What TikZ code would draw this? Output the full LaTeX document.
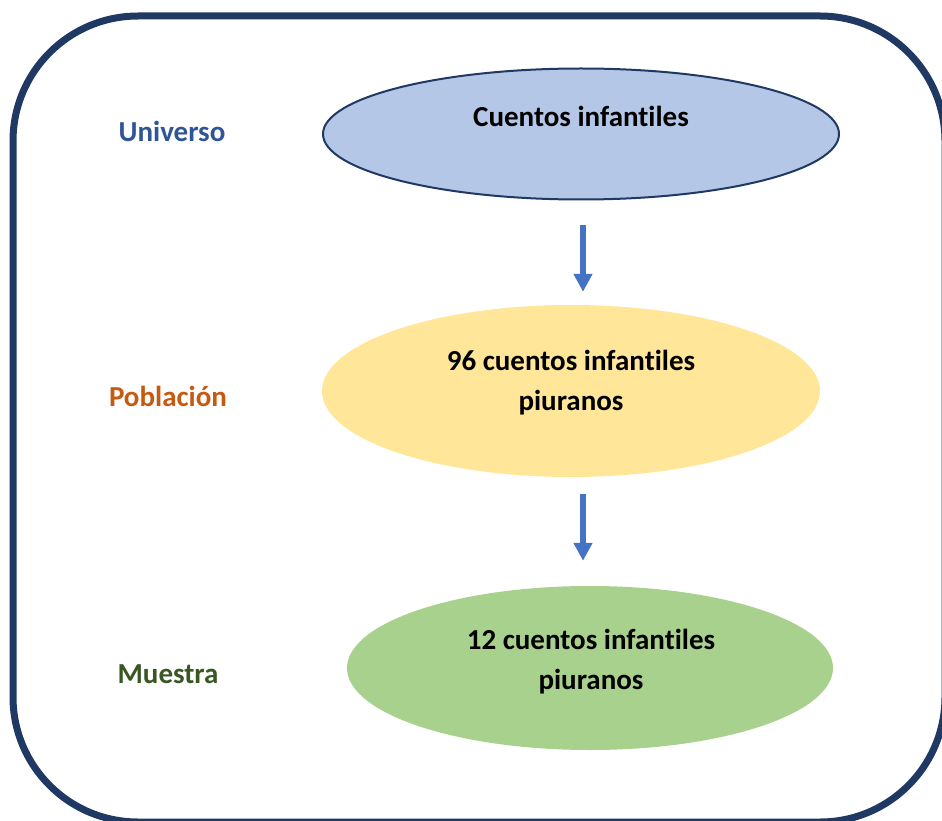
\documentclass[tikz,border=0pt]{standalone}
\usepackage{fontspec}
\setmainfont{Carlito}[RawFeature=-liga]
\usetikzlibrary{shapes.geometric}
\usetikzlibrary{arrows.meta}
\usetikzlibrary{positioning}
\definecolor{marco}{HTML}{203864}
\definecolor{azulclaro}{HTML}{B4C7E7}
\definecolor{amarillo}{HTML}{FFE699}
\definecolor{verdeclaro}{HTML}{A9D18E}
\definecolor{azulflecha}{HTML}{4472C4}
\definecolor{univ}{HTML}{2F5597}
\definecolor{pobl}{HTML}{C55A11}
\definecolor{mues}{HTML}{385723}

\begin{document}
\begin{tikzpicture}[x=1pt,y=-1pt]
\tikzstyle{elip}=[ellipse, inner sep=0pt]
\tikzstyle{texto}=[font=\fontsize{29}{40}\selectfont\bfseries, align=center, anchor=base, inner sep=0pt]
\tikzstyle{flecha}=[-{Triangle[width=18pt,length=18pt]}, line width=6pt, draw=azulflecha]
\useasboundingbox (0,0) rectangle (942,821);
\clip (0,0) rectangle (942,821);

% marco exterior
\draw[line width=7pt, marco, rounded corners=125pt] (13,16) rectangle (945,822);

% elipses
\node[elip, fill=azulclaro, draw=marco, line width=2pt, minimum width=516pt, minimum height=131pt] (uni) at (581,134) {};
\node[elip, fill=amarillo, minimum width=498pt, minimum height=172pt] (pob) at (571,391) {};
\node[elip, fill=verdeclaro, minimum width=486pt, minimum height=164pt] (mue) at (590,668) {};

% textos (base = ultima linea)
\node[texto] (tuni) at (581,127) {Cuentos infantiles};
\node[texto] (tpob) at (571,410) {96 cuentos infantiles\\piuranos};
\node[texto] (tmue) at (591,689) {12 cuentos infantiles\\piuranos};

% rotulos
\node[texto, univ] (luni) at (172,142) {Universo};
\node[texto, pobl] (lpob) at (168,406) {Población};
\node[texto, mues] (lmue) at (168,683) {Muestra};

% flechas
\draw[flecha, shorten <=24pt, shorten >=13pt] ([xshift=2pt]uni.south) -- ([xshift=2pt]uni.south |- pob.north);
\draw[flecha, shorten <=17pt, shorten >=25pt] ([xshift=12pt]pob.south) -- ([xshift=12pt]pob.south |- mue.north);
\end{tikzpicture}
\end{document}
